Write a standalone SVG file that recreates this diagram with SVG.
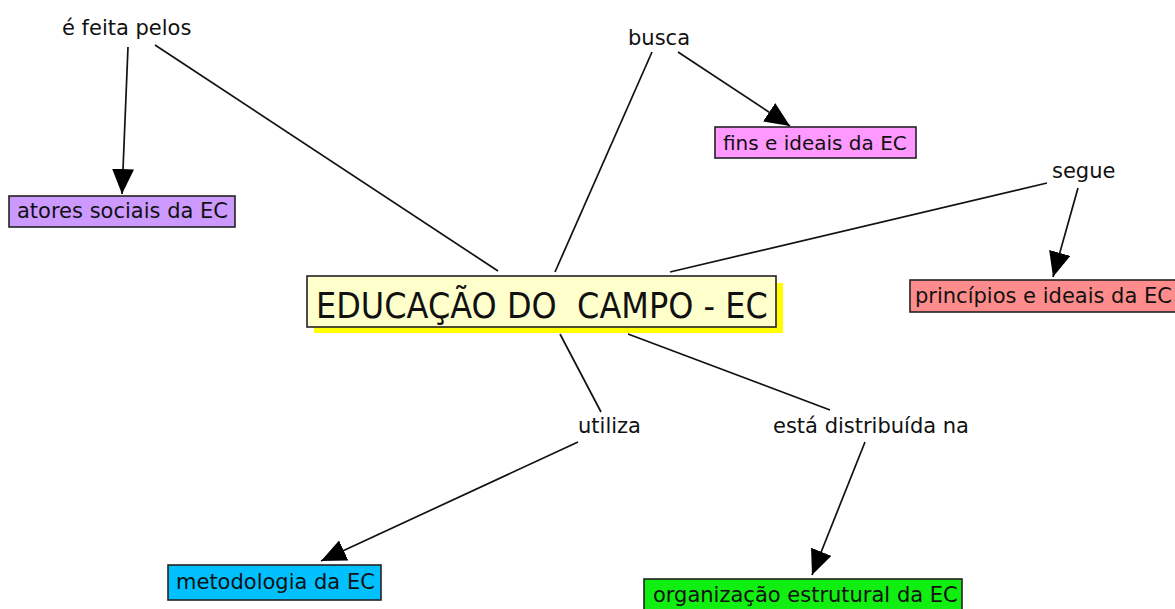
<svg xmlns="http://www.w3.org/2000/svg" width="1175" height="609" viewBox="0 0 1175 609">
<style>
text{font-family:"DejaVu Sans","Liberation Sans",sans-serif;fill:#111;}
.lbl{font-size:21px;}
.box{stroke:#222;stroke-width:1.6;}
.ln{stroke:#111;stroke-width:1.7;fill:none;}
.arr{marker-end:url(#ah);}
</style>
<defs>
<marker id="ah" markerUnits="userSpaceOnUse" markerWidth="26" markerHeight="22" refX="25" refY="11" orient="auto">
<path d="M0,0 L25,11 L0,22 z" fill="#000"/>
</marker>
</defs>
<rect width="1175" height="609" fill="#fff"/>
<g id="connectors">
<line class="ln" x1="498" y1="271" x2="155" y2="45"/>
<line class="ln arr" x1="128" y1="47" x2="122" y2="194"/>
<line class="ln" x1="555" y1="272" x2="652" y2="52"/>
<line class="ln arr" x1="678" y1="52" x2="790" y2="126"/>
<line class="ln" x1="670" y1="272" x2="1047" y2="183"/>
<line class="ln arr" x1="1078" y1="188" x2="1053" y2="277"/>
<line class="ln" x1="560" y1="334" x2="601" y2="412"/>
<line class="ln arr" x1="578" y1="442" x2="321" y2="561"/>
<line class="ln" x1="628" y1="334" x2="830" y2="410"/>
<line class="ln arr" x1="865" y1="442" x2="812" y2="575"/>
</g>
<g id="node-central">
<rect x="314" y="283" width="469" height="50" fill="#ffff00"/>
<rect class="box" x="307" y="276" width="469" height="51" fill="#ffffcc"/>
<text transform="translate(316,318) scale(1,1.12)" x="0" y="0" font-size="32" xml:space="preserve" style="white-space:pre">EDUCAÇÃO DO  CAMPO - EC</text>
</g>
<g id="label-feita">
<text class="lbl" x="62" y="35">é feita pelos</text>
</g>
<g id="node-atores">
<rect class="box" x="9" y="196" width="226" height="31" fill="#cc99ff"/>
<text class="lbl" x="17" y="218">atores sociais da EC</text>
</g>
<g id="label-busca">
<text class="lbl" x="628" y="45">busca</text>
</g>
<g id="node-fins">
<rect class="box" x="715" y="127" width="201" height="31" fill="#ff99ff"/>
<text class="lbl" x="723" y="150" style="font-size:20px">fins e ideais da EC</text>
</g>
<g id="label-segue">
<text class="lbl" x="1052" y="178">segue</text>
</g>
<g id="node-principios">
<rect class="box" x="910" y="280" width="270" height="32" fill="#ff8c8c"/>
<text class="lbl" x="915" y="303">princípios e ideais da EC</text>
</g>
<g id="label-utiliza">
<text class="lbl" x="578" y="433">utiliza</text>
</g>
<g id="node-metodologia">
<rect class="box" x="168" y="565" width="213" height="35" fill="#00c0ff"/>
<text class="lbl" x="176" y="589">metodologia da EC</text>
</g>
<g id="label-esta">
<text class="lbl" x="773" y="433">está distribuída na</text>
</g>
<g id="node-organizacao">
<rect class="box" x="644" y="579" width="318" height="34" fill="#11ee11"/>
<text class="lbl" x="653" y="602">organização estrutural da EC</text>
</g>
</svg>
